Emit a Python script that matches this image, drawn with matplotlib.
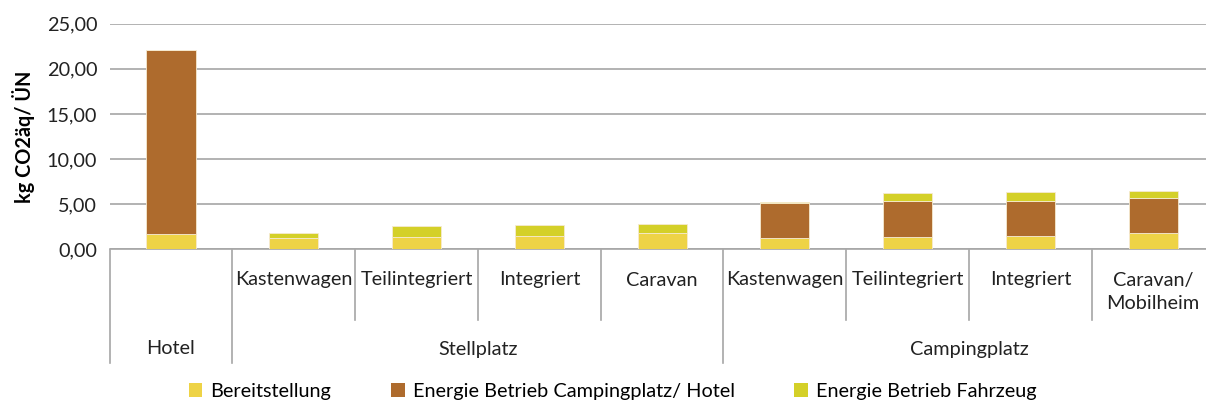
import numpy as np
import matplotlib.pyplot as plt
from matplotlib.transforms import blended_transform_factory
from matplotlib.patches import Patch

plt.rcParams['font.family'] = ['Lato', 'DejaVu Sans']

# categories (lower level = group, upper level = vehicle type)
groups = ["Hotel", "Stellplatz", "Campingplatz"]
group_sizes = [1, 4, 4]
types = ["", "Kastenwagen", "Teilintegriert", "Integriert", "Caravan",
         "Kastenwagen", "Teilintegriert", "Integriert", "Caravan/\nMobilheim"]

# series values (kg CO2aeq per overnight stay)
bereitstellung = [1.70, 1.25, 1.40, 1.51, 1.85, 1.22, 1.37, 1.48, 1.85]
energie_platz = [20.43, 0.0, 0.0, 0.0, 0.0, 3.96, 3.96, 3.92, 3.88]
energie_fahrzeug = [0.0, 0.56, 1.15, 1.15, 0.92, 0.10, 0.89, 0.97, 0.71]

series_names = ["Bereitstellung", "Energie Betrieb Campingplatz/ Hotel", "Energie Betrieb Fahrzeug"]
colors = ["#EED346", "#AE6B2D", "#D4D028"]

FS = 14.3
W, H = 1206, 405
fig = plt.figure(figsize=(W / 100, H / 100), dpi=100)
ax = fig.add_axes([109.6 / W, (H - 249.3) / H, 1105 / W, 225.6 / H])

x = np.arange(len(types))
bottom = np.zeros(len(types))
for vals, c in zip([bereitstellung, energie_platz, energie_fahrzeug], colors):
    ax.bar(x, vals, width=0.4, bottom=bottom, color=c, edgecolor="#F6EAD0", linewidth=0.6, zorder=3)
    bottom += np.array(vals)

ax.set_xlim(-0.5, len(types) - 0.5)
ax.set_ylim(0, 25)
ax.set_yticks(np.arange(0, 26, 5))
ax.set_yticklabels([f"{v:.2f}".replace(".", ",") for v in np.arange(0, 26, 5)], fontsize=FS, color="#222222")
ax.yaxis.grid(True, color="#A6A6A6", linewidth=1.2, zorder=0)
ax.tick_params(axis="y", length=0, pad=9)
ax.set_xticks([])
for s in ["top", "right", "left"]:
    ax.spines[s].set_visible(False)
ax.spines["bottom"].set_color("#A6A6A6")
ax.spines["bottom"].set_linewidth(1.2)

ax.set_ylabel("kg CO2äq/ ÜN", fontsize=FS, fontweight="bold", labelpad=8)

# multi-level category axis
tr = blended_transform_factory(ax.transData, fig.transFigure)
def fy(py):
    return (H - py) / H

for i, t in enumerate(types):
    if not t:
        continue
    if "\n" in t:
        ax.text(i, fy(292), t, transform=tr, ha="center", va="center", fontsize=FS,
                color="#222222", linespacing=1.45, multialignment="center")
    else:
        ax.text(i, fy(280), t, transform=tr, ha="center", va="center", fontsize=FS, color="#222222")

edges = np.cumsum([0] + group_sizes) - 0.5
for i in range(len(types) + 1):
    xe = i - 0.5
    end = 363 if xe in edges else 320
    ax.plot([xe, xe], [fy(250), fy(end)], transform=tr, color="#A6A6A6", linewidth=1.2, clip_on=False)

for g, s0, s1 in zip(groups, edges[:-1], edges[1:]):
    ax.text((s0 + s1) / 2, fy(349), g, transform=tr, ha="center", va="center", fontsize=FS, color="#222222")

handles = [Patch(facecolor=c, edgecolor="none") for c in colors]
fig.legend(handles, series_names, loc="center", bbox_to_anchor=(0.508, fy(391)), ncol=3, frameon=False,
           fontsize=FS, handlelength=0.7, handleheight=0.7, handletextpad=0.4, columnspacing=3.0)

fig.savefig("out.png", dpi=100)
